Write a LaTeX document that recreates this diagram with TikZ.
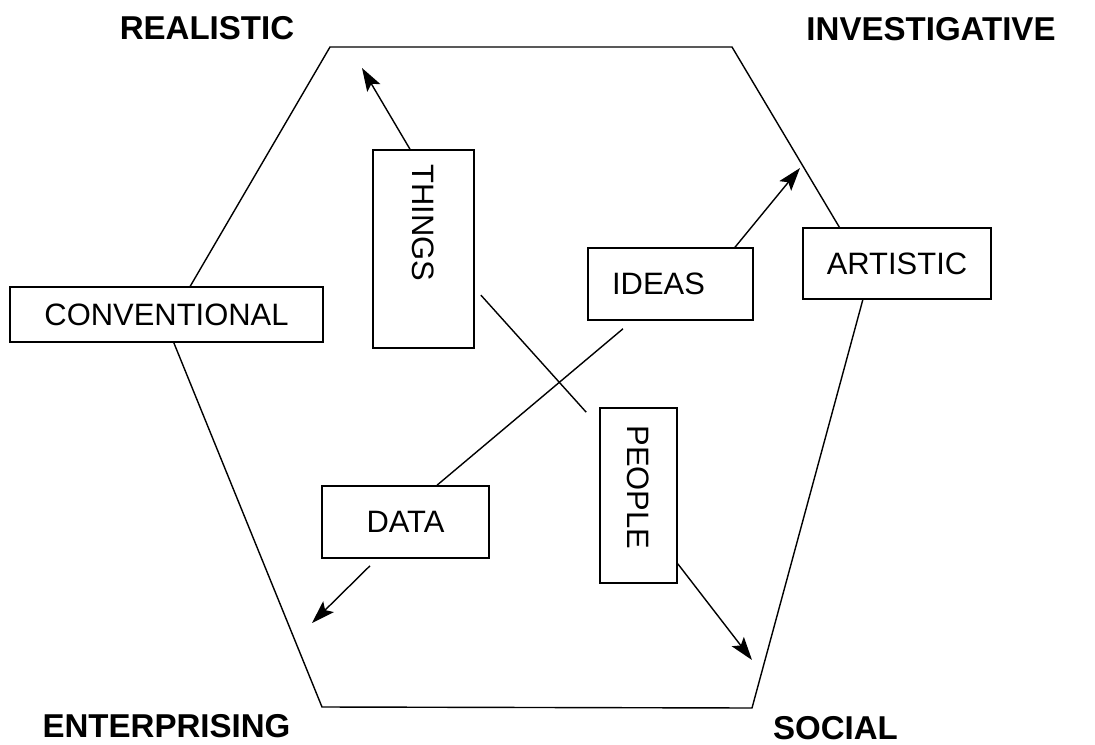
\documentclass[tikz,border=0pt]{standalone}
\usepackage{fontspec}
\setmainfont{Liberation Sans}
\usetikzlibrary{arrows.meta,calc}
\tikzset{
  >={Stealth[length=5.8mm,width=3.8mm,inset=1.2mm]},
  box/.style  ={draw, line width=1.1pt, fill=white, inner sep=0pt, font=\fontsize{22}{26}\selectfont},
  head/.style ={font=\fontsize{23.5}{28}\selectfont\bfseries},
  arr/.style  ={->, line width=1pt},
  ln/.style   ={line width=1pt},
}

\begin{document}
\begin{tikzpicture}[x=0.25mm, y=-0.25mm]
  \useasboundingbox (0,0) rectangle (1095,745);

  % hexagon corners
  \coordinate (h1) at (330,47);
  \coordinate (h2) at (732,47);
  \coordinate (h3) at (869,277);
  \coordinate (h4) at (752,708);
  \coordinate (h5) at (322,707);
  \coordinate (h6) at (167,326);
  \draw[ln] (h1) -- (h2) -- (h3) -- (h4) -- (h5) -- (h6) -- cycle;

  % corner headings
  \node[head] (real) at (207,28)    {REALISTIC};
  \node[head] (inv)  at (931,29.5)  {INVESTIGATIVE};
  \node[head] (ent)  at (166.5,726.5) {ENTERPRISING};
  \node[head] (soc)  at (835.5,728.5) {SOCIAL};

  % boxes
  \node[box, minimum width=78.25mm, minimum height=13.75mm] (conv) at (166.5,314.5) {CONVENTIONAL};
  \node[box, minimum width=47mm, minimum height=17.75mm] (art) at (897,263.5) {ARTISTIC};
  \node[box, minimum width=41.25mm, minimum height=18mm] (ideas) at (670.5,284) {IDEAS\kern6mm};
  \node[box, minimum width=41.75mm, minimum height=18mm] (data) at (405.5,522) {DATA};
  \node[box, minimum width=25.25mm, minimum height=49.5mm] (things) at (423.5,249) {\rotatebox{-90}{THINGS\hspace{13mm}}};
  \node[box, minimum width=19.25mm, minimum height=43.75mm] (people) at (638.5,495.5) {\rotatebox{-90}{PEOPLE\hspace{4mm}}};

  % arrow ends
  \coordinate (tR) at (362,68);
  \coordinate (tI) at (800,168);
  \coordinate (tE) at (312,623);
  \coordinate (tS) at (752,660);

  \draw[arr] ($(things.north)+(-13.5,0)$) -- (tR);
  \draw[arr] ($(ideas.north)+(64.5,0)$) -- (tI);
  \draw[arr] ($(data.south)+(-35.5,7)$) -- (tE);
  \draw[arr] ($(people.south east)+(0,-20)$) -- (tS);

  % crossing lines
  \draw[ln] ($(ideas.south)+(-47.5,8)$) -- ($(data.north)+(31.5,0)$);
  \draw[ln] ($(things.east)+(6,46)$) -- ($(people.north west)+(-13,5)$);
\end{tikzpicture}
\end{document}
